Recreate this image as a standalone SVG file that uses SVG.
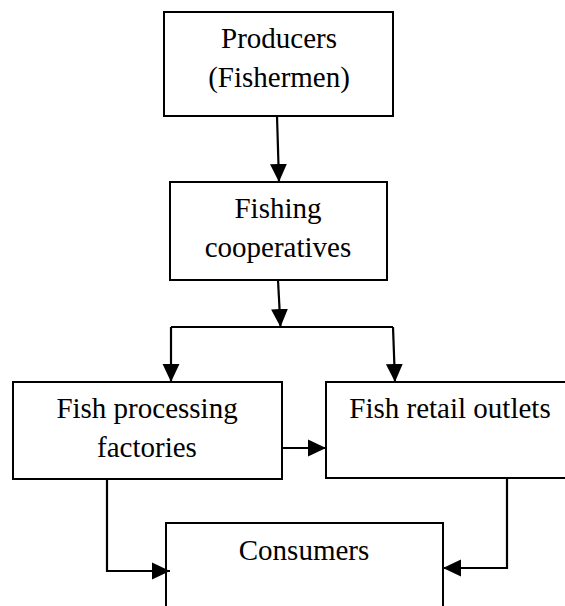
<svg xmlns="http://www.w3.org/2000/svg" width="565" height="606" viewBox="0 0 565 606">
<style>
.box{fill:#fff;stroke:#000;stroke-width:2}
.lbl{font-family:"Liberation Serif","Times New Roman",serif;font-size:29px;fill:#000;text-anchor:middle}
.con{fill:none;stroke:#000;stroke-width:2.2}
</style>
<defs>
<marker id="arr" markerUnits="userSpaceOnUse" markerWidth="18" markerHeight="18" viewBox="0 0 16 16" refX="16" refY="8" orient="auto">
<path d="M0,0.5 L16,8 L0,15.5 Z" fill="#000"/>
</marker>
</defs>
<rect width="565" height="606" fill="#fff"/>
<g id="producers">
<rect class="box" x="164" y="12" width="229" height="104"/>
<text class="lbl" x="279" y="48">Producers</text>
<text class="lbl" x="279" y="87">(Fishermen)</text>
</g>
<g id="cooperatives">
<rect class="box" x="170" y="182" width="217" height="98"/>
<text class="lbl" x="278" y="218">Fishing</text>
<text class="lbl" x="278" y="257">cooperatives</text>
</g>
<g id="processing">
<rect class="box" x="13" y="382" width="269" height="97"/>
<text class="lbl" x="147" y="418">Fish processing</text>
<text class="lbl" x="147" y="457">factories</text>
</g>
<g id="retail">
<rect class="box" x="326" y="382" width="250" height="96"/>
<text class="lbl" x="450" y="418">Fish retail outlets</text>
</g>
<g id="consumers">
<rect class="box" x="166" y="523" width="277" height="100"/>
<text class="lbl" x="304" y="560">Consumers</text>
</g>
<g id="connectors">
<path class="con" d="M277,116 L279,182" marker-end="url(#arr)"/>
<path class="con" d="M278,280 L280.5,327" marker-end="url(#arr)"/>
<path class="con" d="M171,327 L393,327"/>
<path class="con" d="M171,327 L171,382" marker-end="url(#arr)"/>
<path class="con" d="M393,327 L395,382" marker-end="url(#arr)"/>
<path class="con" d="M282,448 L326,448" marker-end="url(#arr)"/>
<path class="con" d="M107,479 L107,571 L170,571" marker-end="url(#arr)"/>
<path class="con" d="M507,478 L507,568 L443,568" marker-end="url(#arr)"/>
</g>
</svg>
